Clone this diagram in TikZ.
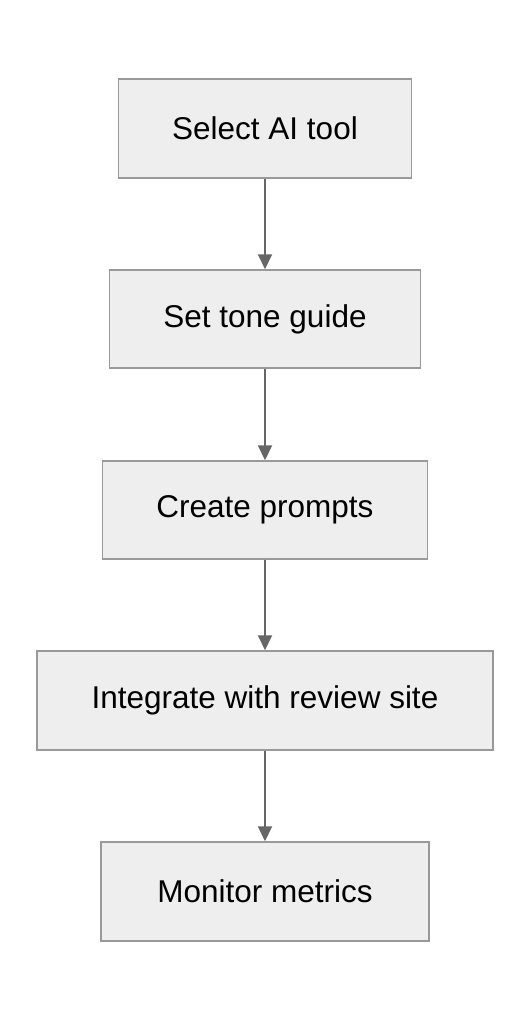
\documentclass[tikz,border=0pt]{standalone}
\usepackage{fontspec}
\setmainfont{Liberation Sans}
\usetikzlibrary{arrows.meta}
\definecolor{boxfill}{HTML}{EEEEEE}
\definecolor{boxline}{HTML}{999999}
\definecolor{arrowc}{HTML}{666666}
\tikzset{
  stepbox/.style={draw=boxline, fill=boxfill, line width=1.5pt, inner sep=0pt, font=\fontsize{31.5}{38}\selectfont},
  flow/.style={draw=arrowc, line width=2pt, -{Triangle[width=14pt,length=15pt]}}
}
\begin{document}
\begin{tikzpicture}[x=1pt,y=-1pt]
\useasboundingbox (0,0) rectangle (530,1020);
\node[stepbox, minimum width=293pt, minimum height=99pt] (a) at (265,128.5) {Select AI tool};
\node[stepbox, minimum width=311pt, minimum height=98pt] (b) at (265,319) {Set tone guide};
\node[stepbox, minimum width=325pt, minimum height=98pt] (c) at (265,510) {Create prompts};
\node[stepbox, minimum width=456pt, minimum height=99pt] (d) at (265,700.5) {Integrate with review site};
\node[stepbox, minimum width=328pt, minimum height=99pt] (e) at (265,891.5) {Monitor metrics};
\draw[flow] (a) -- (b);
\draw[flow] (b) -- (c);
\draw[flow] (c) -- (d);
\draw[flow] (d) -- (e);
\end{tikzpicture}
\end{document}
